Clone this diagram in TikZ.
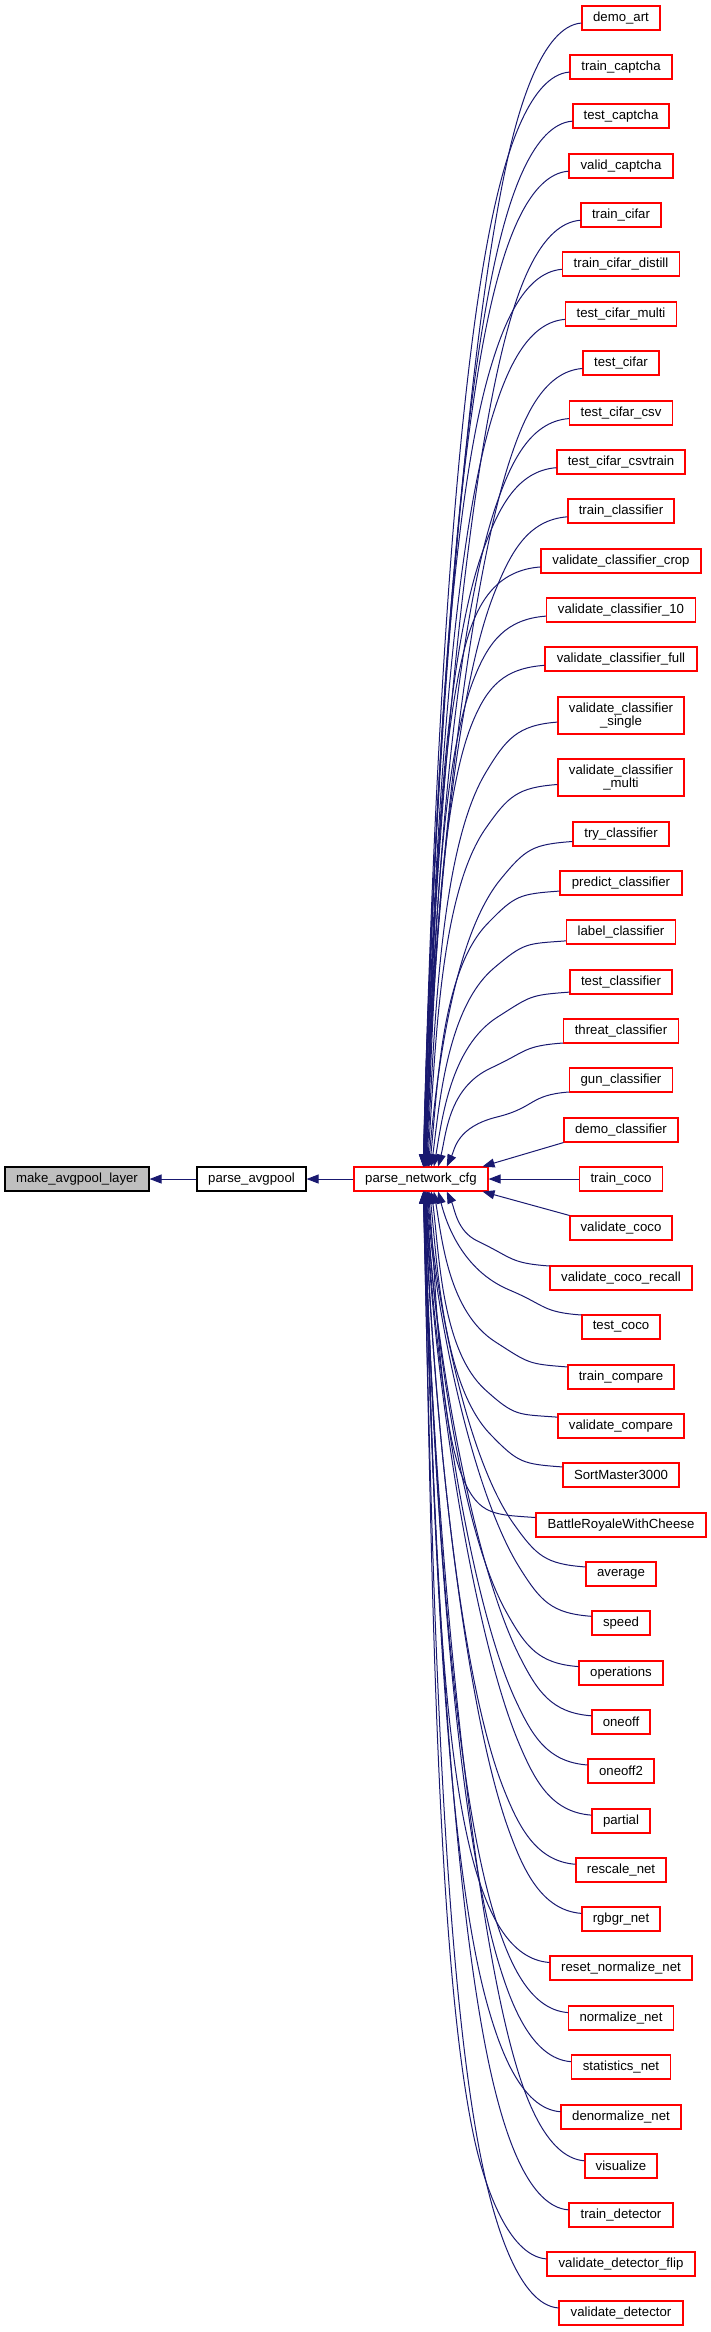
\documentclass[tikz,border=0pt]{standalone}
\usepackage{fontspec}
\setmainfont{Liberation Sans}
\usetikzlibrary{arrows.meta,calc}
\definecolor{edgecol}{HTML}{191970}
\definecolor{grayfill}{HTML}{BFBFBF}
% #1 = caller node, #2 = its centre y (px, downwards)
\newcommand\fan[2]{%
  \pgfpointanchor{#1}{west}\pgfgetlastxy{\fzwx}{\fzwy}%
  \pgfmathsetmacro\fzD{abs(#2-1179)}%
  \pgfmathsetmacro\fzs{(#2<1179)*2-1}%
  \pgfmathsetmacro\fzo{(\fzs)*min(12,4+1200/\fzD)}%
  \pgfmathsetmacro\fzp{(\fzs)*3}%
  \pgfmathsetmacro\fzh{(\fzs)*max(25,0.11*\fzD)}%
  \pgfmathsetmacro\fzKo{\fzo+\fzh}%
  \pgfmathsetmacro\fzKx{\fzwx-72}%
  \pgfmathsetmacro\fzKy{#2+\fzKo}%
  \pgfmathsetmacro\fzLo{2548/\fzD}%
  \pgfmathsetmacro\fzLx{421+\fzLo}%
  \pgfmathsetmacro\fzLy{0-(\fzs)*12.5}%
  \pgfmathsetmacro\fzspan{abs(1179+\fzLy-\fzKy)}%
  \pgfmathsetmacro\fzPx{max(\fzKx-47,\fzLx+10)}%
  \pgfmathsetmacro\fzPy{\fzKy+(\fzs)*0.2*\fzspan}%
  \pgfmathsetmacro\fzQy{0-(\fzs)*(0.3*\fzD-12.5)}%
  \coordinate (fS) at ($(#1.west)+(0,\fzo)$);%
  \coordinate (fK) at ($(#1.west)+(-72,\fzKo)$);%
  \coordinate (fP) at (\fzPx,\fzPy);%
  \coordinate (fL) at ($(pnc.center)+(\fzLo,\fzLy)$);%
  \draw[edge] (fS) .. controls ($(fS)+(-40,\fzp)$) and ($(fK)!-40pt!(fP)$) .. (fK)
     .. controls (fP) and ($(fL)+(8,\fzQy)$) .. (fL);%
}
\begin{document}
\begin{tikzpicture}[x=1pt,y=-1pt,
  fn/.style={draw=red, line width=1.1pt, fill=white, minimum height=24pt,
    inner xsep=6pt, inner ysep=2pt, align=center,
    font=\fontsize{13.2}{12.6}\selectfont},
  edge/.style={draw=edgecol, line width=1pt, -{Triangle[length=12pt,width=9pt]}}]
\useasboundingbox (0,0) rectangle (711,2332);
% left chain
\node[fn, draw=black, fill=grayfill, minimum width=144pt] (mapl) at (77,1179) {make\_avgpool\_layer};
\node[fn, draw=black, minimum width=109pt] (pavg) at (251.5,1179) {parse\_avgpool};
\node[fn, minimum width=134pt] (pnc) at (421,1179) {parse\_network\_cfg};
% callers
\node[fn, minimum width=78pt]  (demoart) at (621,18) {demo\_art};
\node[fn, minimum width=102pt] (traincaptcha) at (621,67) {train\_captcha};
\node[fn, minimum width=96pt]  (testcaptcha) at (621,116) {test\_captcha};
\node[fn, minimum width=104pt] (validcaptcha) at (621,166) {valid\_captcha};
\node[fn, minimum width=80pt]  (traincifar) at (621,215) {train\_cifar};
\node[fn, minimum width=117pt] (traincifardistill) at (621,264) {train\_cifar\_distill};
\node[fn, minimum width=111pt] (testcifarmulti) at (621,314) {test\_cifar\_multi};
\node[fn, minimum width=76pt]  (testcifar) at (621,363) {test\_cifar};
\node[fn, minimum width=103pt] (testcifarcsv) at (621,413) {test\_cifar\_csv};
\node[fn, minimum width=128pt] (testcifarcsvtrain) at (621,462) {test\_cifar\_csvtrain};
\node[fn, minimum width=106pt] (trainclassifier) at (621,511) {train\_classifier};
\node[fn, minimum width=160pt] (valclscrop) at (621,561) {validate\_classifier\_crop};
\node[fn, minimum width=149pt] (valclsten) at (621,610) {validate\_classifier\_10};
\node[fn, minimum width=152pt] (valclsfull) at (621,659) {validate\_classifier\_full};
\node[fn, minimum width=126pt, minimum height=37pt] (valclssingle) at (621,715.5) {validate\_classifier\\\_single};
\node[fn, minimum width=126pt, minimum height=37pt] (valclsmulti) at (621,777.5) {validate\_classifier\\\_multi};
\node[fn, minimum width=96pt]  (tryclassifier) at (621,834) {try\_classifier};
\node[fn, minimum width=122pt] (predictclassifier) at (621,883) {predict\_classifier};
\node[fn, minimum width=109pt] (labelclassifier) at (621,932) {label\_classifier};
\node[fn, minimum width=102pt] (testclassifier) at (621,982) {test\_classifier};
\node[fn, minimum width=115pt] (threatclassifier) at (621,1031) {threat\_classifier};
\node[fn, minimum width=103pt] (gunclassifier) at (621,1080) {gun\_classifier};
\node[fn, minimum width=114pt] (democlassifier) at (621,1130) {demo\_classifier};
\node[fn, minimum width=83pt]  (traincoco) at (621,1179) {train\_coco};
\node[fn, minimum width=102pt] (validatecoco) at (621,1228) {validate\_coco};
\node[fn, minimum width=142pt] (valcocorecall) at (621,1278) {validate\_coco\_recall};
\node[fn, minimum width=78pt]  (testcoco) at (621,1327) {test\_coco};
\node[fn, minimum width=106pt] (traincompare) at (621,1377) {train\_compare};
\node[fn, minimum width=126pt] (validatecompare) at (621,1426) {validate\_compare};
\node[fn, minimum width=116pt] (sortmaster) at (621,1475) {SortMaster3000};
\node[fn, minimum width=170pt] (battleroyale) at (621,1525) {BattleRoyaleWithCheese};
\node[fn, minimum width=70pt]  (average) at (621,1574) {average};
\node[fn, minimum width=58pt]  (speed) at (621,1623) {speed};
\node[fn, minimum width=84pt]  (operations) at (621,1673) {operations};
\node[fn, minimum width=58pt]  (oneoff) at (621,1722) {oneoff};
\node[fn, minimum width=66pt]  (oneofftwo) at (621,1771) {oneoff2};
\node[fn, minimum width=58pt]  (partial) at (621,1821) {partial};
\node[fn, minimum width=90pt]  (rescalenet) at (621,1870) {rescale\_net};
\node[fn, minimum width=78pt]  (rgbgrnet) at (621,1919) {rgbgr\_net};
\node[fn, minimum width=142pt] (resetnormalizenet) at (621,1968) {reset\_normalize\_net};
\node[fn, minimum width=105pt] (normalizenet) at (621,2018) {normalize\_net};
\node[fn, minimum width=99pt]  (statisticsnet) at (621,2067) {statistics\_net};
\node[fn, minimum width=120pt] (denormalizenet) at (621,2117) {denormalize\_net};
\node[fn, minimum width=72pt]  (visualize) at (621,2166) {visualize};
\node[fn, minimum width=104pt] (traindetector) at (621,2215) {train\_detector};
\node[fn, minimum width=148pt] (valdetflip) at (621,2264) {validate\_detector\_flip};
\node[fn, minimum width=124pt] (validatedetector) at (621,2313) {validate\_detector};
% edges
\draw[edge] (pnc) -- (pavg);
\draw[edge] (pavg) -- (mapl);
\draw[edge] (traincoco) -- (pnc);
\draw[edge] (democlassifier.south west) -- ($(pnc.north east)+(-6,0)$);
\draw[edge] (validatecoco.north west) -- ($(pnc.south east)+(-6,0)$);
\fan{demoart}{18}
\fan{traincaptcha}{67}
\fan{testcaptcha}{116}
\fan{validcaptcha}{166}
\fan{traincifar}{215}
\fan{traincifardistill}{264}
\fan{testcifarmulti}{314}
\fan{testcifar}{363}
\fan{testcifarcsv}{413}
\fan{testcifarcsvtrain}{462}
\fan{trainclassifier}{511}
\fan{valclscrop}{561}
\fan{valclsten}{610}
\fan{valclsfull}{659}
\fan{valclssingle}{715.5}
\fan{valclsmulti}{777.5}
\fan{tryclassifier}{834}
\fan{predictclassifier}{883}
\fan{labelclassifier}{932}
\fan{testclassifier}{982}
\fan{threatclassifier}{1031}
\fan{gunclassifier}{1080}
\fan{valcocorecall}{1278}
\fan{testcoco}{1327}
\fan{traincompare}{1377}
\fan{validatecompare}{1426}
\fan{sortmaster}{1475}
\fan{battleroyale}{1525}
\fan{average}{1574}
\fan{speed}{1623}
\fan{operations}{1673}
\fan{oneoff}{1722}
\fan{oneofftwo}{1771}
\fan{partial}{1821}
\fan{rescalenet}{1870}
\fan{rgbgrnet}{1919}
\fan{resetnormalizenet}{1968}
\fan{normalizenet}{2018}
\fan{statisticsnet}{2067}
\fan{denormalizenet}{2117}
\fan{visualize}{2166}
\fan{traindetector}{2215}
\fan{valdetflip}{2264}
\fan{validatedetector}{2313}
\end{tikzpicture}
\end{document}
